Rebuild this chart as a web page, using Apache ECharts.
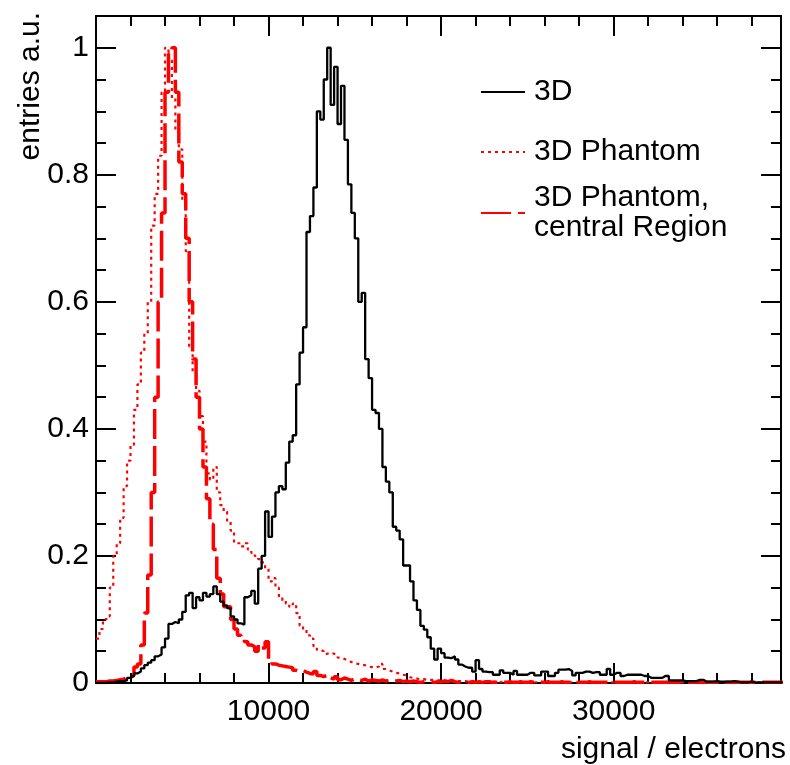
<!DOCTYPE html>
<html>
<head>
<meta charset="utf-8">
<script src="https://cdn.jsdelivr.net/npm/echarts@6/dist/echarts.min.js"></script>
<style>
html,body{margin:0;padding:0;background:#fff;}
#chart{width:790px;height:765px;}
</style>
</head>
<body>
<div id="chart"></div>
<script>
// ---- data (histograms, bin width 200 electrons, first bin starts at 0) ----
var binWidth = 200;
var seriesNames = ['3D', '3D Phantom', '3D Phantom,\ncentral Region'];
var xTickLabels = ['10000', '20000', '30000'];
var yTickLabels = ['0', '0.2', '0.4', '0.6', '0.8', '1'];
var xTitle = 'signal / electrons';
var yTitle = 'entries a.u.';

var sig3D = [
  0, 0, 0, 0.001, 0.001, 0.002, 0.003, 0.003, 0.004, 0.008,
  0.011, 0.015, 0.018, 0.023, 0.028, 0.032, 0.036, 0.042, 0.045, 0.056,
  0.07, 0.093, 0.096, 0.094, 0.1, 0.112, 0.138, 0.142, 0.118, 0.135,
  0.13, 0.142, 0.136, 0.14, 0.152, 0.14, 0.128, 0.122, 0.118, 0.105,
  0.1, 0.094, 0.092, 0.135, 0.138, 0.145, 0.125, 0.18, 0.2, 0.27,
  0.23, 0.262, 0.3, 0.31, 0.305, 0.347, 0.38, 0.39, 0.47, 0.52,
  0.56, 0.71, 0.735, 0.78, 0.9, 0.887, 0.95, 1.0, 0.91, 0.97,
  0.88, 0.94, 0.855, 0.785, 0.74, 0.7, 0.6, 0.614, 0.51, 0.48,
  0.43, 0.425, 0.4, 0.34, 0.317, 0.3, 0.246, 0.24, 0.226, 0.185,
  0.185, 0.16, 0.13, 0.115, 0.09, 0.084, 0.072, 0.054, 0.037, 0.054,
  0.047, 0.04, 0.039, 0.042, 0.037, 0.029, 0.026, 0.024, 0.024, 0.018,
  0.036, 0.022, 0.018, 0.017, 0.017, 0.013, 0.013, 0.02, 0.016, 0.016,
  0.013, 0.019, 0.013, 0.013, 0.013, 0.016, 0.016, 0.012, 0.012, 0.018,
  0.018, 0.011, 0.011, 0.016, 0.021, 0.021, 0.022, 0.019, 0.012, 0.016,
  0.016, 0.018, 0.018, 0.016, 0.017, 0.017, 0.013, 0.013, 0.022, 0.013,
  0.016, 0.016, 0.011, 0.013, 0.013, 0.013, 0.013, 0.013, 0.011, 0.011,
  0.008, 0.008, 0.008, 0.008, 0.011, 0.011, 0.004, 0.004, 0.004, 0.004,
  0.003, 0.003, 0.003, 0.003, 0.005, 0.005, 0.002, 0.002, 0.002, 0.003,
  0.002, 0.002, 0.002, 0.002, 0.003, 0.002, 0.001, 0.001, 0.001, 0.002,
  0.001, 0.001, 0.001, 0.001, 0.001, 0.001, 0.001, 0.001, 0.001
];

var phantom3D = [
  0.07, 0.085, 0.1, 0.105, 0.15, 0.2, 0.22, 0.26, 0.31, 0.35,
  0.375, 0.43, 0.47, 0.52, 0.55, 0.6, 0.72, 0.77, 0.83, 0.93,
  1.0, 0.98, 0.92, 0.87, 0.84, 0.76, 0.68, 0.53, 0.49, 0.46,
  0.42, 0.38, 0.33, 0.32, 0.34, 0.3, 0.28, 0.27, 0.255, 0.24,
  0.22, 0.22, 0.215, 0.22, 0.21, 0.205, 0.2, 0.195, 0.19, 0.18,
  0.16, 0.165, 0.15, 0.135, 0.13, 0.125, 0.12, 0.125, 0.11, 0.09,
  0.085, 0.075, 0.07, 0.058, 0.052, 0.05, 0.046, 0.048, 0.046, 0.044,
  0.04, 0.038, 0.035, 0.033, 0.031, 0.03, 0.028, 0.028, 0.026, 0.025,
  0.024, 0.026, 0.03, 0.022, 0.02, 0.018, 0.016, 0.015, 0.013, 0.012,
  0.009, 0.008, 0.007, 0.006, 0.006, 0.005, 0.005, 0.005, 0.004, 0.004,
  0.004, 0.003, 0.003, 0.004, 0.003, 0.003, 0.003, 0.002, 0.003, 0.002,
  0.002, 0.002, 0.003, 0.002, 0.002, 0.002, 0.001, 0.002, 0.002, 0.001,
  0.002, 0.001, 0.001, 0.002, 0.001, 0.001, 0.001, 0.001, 0.002, 0.001,
  0.001, 0.001, 0.001, 0.001, 0.001, 0.001, 0.001, 0.001, 0.001, 0.001,
  0.001, 0.001, 0.001, 0.001, 0.001, 0.001, 0.001, 0.001, 0.001, 0.001,
  0.001, 0.001, 0.001, 0.001, 0.001, 0.001, 0.001, 0.001, 0.001, 0.001,
  0.001, 0.001, 0.001, 0.001, 0.001, 0.001, 0.001, 0.001, 0.001, 0.001,
  0.001, 0.001, 0.001, 0.001, 0.001, 0.001, 0.001, 0.001, 0.001, 0.001,
  0.001, 0.001, 0.001, 0.001, 0.001, 0.001, 0.001, 0.001, 0.001, 0.001,
  0.001, 0.001, 0.001, 0.001, 0.001, 0.001, 0.001, 0.001, 0.001
];

var phantomCentral = [
  0.002, 0.002, 0.002, 0.003, 0.003, 0.004, 0.005, 0.006, 0.008, 0.01,
  0.012, 0.025, 0.03, 0.06, 0.11, 0.17, 0.3, 0.45, 0.6, 0.74,
  0.93, 0.99, 1.0, 0.93, 0.82, 0.77, 0.7, 0.6, 0.51, 0.45,
  0.4, 0.34, 0.29, 0.25, 0.21, 0.165, 0.14, 0.12, 0.12, 0.1,
  0.085, 0.075, 0.07, 0.065, 0.06, 0.057, 0.05, 0.06, 0.055, 0.065,
  0.035, 0.03, 0.028, 0.027, 0.026, 0.025, 0.024, 0.02, 0.018, 0.02,
  0.017, 0.015, 0.014, 0.018, 0.012, 0.01, 0.012, 0.008, 0.006, 0.01,
  0.005, 0.008, 0.006, 0.004, 0.007, 0.005, 0.004, 0.006, 0.003, 0.005,
  0.004, 0.003, 0.005, 0.003, 0.004, 0.002, 0.003, 0.004, 0.002, 0.003,
  0.002, 0.003, 0.002, 0.001, 0.002, 0.003, 0.002, 0.001, 0.002, 0.002,
  0.003, 0.002, 0.004, 0.002, 0.001, 0.002, 0.002, 0.001, 0.002, 0.001,
  0.002, 0.001, 0.002, 0.002, 0.001, 0.001, 0.002, 0.001, 0.001, 0.002,
  0.001, 0.001, 0.002, 0.001, 0.001, 0.002, 0.001, 0.001, 0.001, 0.001,
  0.002, 0.001, 0.001, 0.001, 0.002, 0.001, 0.001, 0.001, 0.001, 0.001,
  0.001, 0.001, 0.002, 0.001, 0.001, 0.001, 0.001, 0.001, 0.001, 0.001,
  0.001, 0.001, 0.001, 0.001, 0.001, 0.002, 0.001, 0.001, 0.001, 0.001,
  0.001, 0.001, 0.001, 0.001, 0.001, 0.001, 0.001, 0.001, 0.001, 0.001,
  0.001, 0.001, 0.001, 0.001, 0.001, 0.001, 0.001, 0.001, 0.001, 0.001,
  0.001, 0.001, 0.001, 0.001, 0.001, 0.001, 0.001, 0.001, 0.001, 0.001,
  0.001, 0.001, 0.001, 0.001, 0.001, 0.001, 0.001, 0.001, 0.001
];

var xMin = 0, xMax = 39700, yMin = 0, yMax = 1.05;

// ---- build ----
function toSteps(vals) {
  var out = vals.map(function (v, i) { return [i * binWidth, v]; });
  out.push([vals.length * binWidth, vals[vals.length - 1]]);
  return out;
}
var FONT = 'Liberation Sans';
var chart = echarts.init(document.getElementById('chart'), null, {renderer: 'canvas'});

function xAx(pos, interval, len, labels, line) {
  return {
    type: 'value', position: pos, min: xMin, max: xMax, interval: interval,
    axisLine: {show: line, onZero: false, lineStyle: {color: '#000', width: 2}},
    axisTick: {show: true, inside: true, length: len, lineStyle: {color: '#000', width: 2}},
    axisLabel: {
      show: labels, fontSize: 30, fontFamily: FONT, color: '#000', margin: 14,
      showMinLabel: false, showMaxLabel: false,
      formatter: function (v) { var s = String(Math.round(v)); return xTickLabels.indexOf(s) >= 0 ? s : ''; }
    },
    splitLine: {show: false}
  };
}
function yAx(pos, interval, len, labels, line) {
  return {
    type: 'value', position: pos, min: yMin, max: yMax, interval: interval,
    axisLine: {show: line, onZero: false, lineStyle: {color: '#000', width: 2}},
    axisTick: {show: true, inside: true, length: len, lineStyle: {color: '#000', width: 2}},
    axisLabel: {
      show: labels, fontSize: 30, fontFamily: FONT, color: '#000', margin: 7,
      showMaxLabel: false,
      formatter: function (v) { var s = String(Math.round(v * 10) / 10); return (Math.abs(v - Math.round(v * 10) / 10) < 1e-6 && yTickLabels.indexOf(s) >= 0) ? s : ''; }
    },
    splitLine: {show: false}
  };
}

var legendBase = function (name, top) {
  return {
    data: [name], orient: 'vertical', left: 480, top: top, padding: 0,
    itemWidth: 44, itemHeight: 14, itemGap: 0,
    itemStyle: {opacity: 0, borderWidth: 0},
    textStyle: {fontSize: 30, fontFamily: FONT, color: '#000', lineHeight: 30, padding: [0, 0, 0, 4]},
    selectedMode: false
  };
};

var option = {
  animation: false,
  backgroundColor: '#fff',
  grid: {left: 96, right: 9, top: 16, bottom: 82, containLabel: false},
  xAxis: [
    xAx('bottom', 10000, 20, true, true),
    xAx('bottom', 2000, 10, false, false),
    xAx('top', 10000, 20, false, true),
    xAx('top', 2000, 10, false, false)
  ],
  yAxis: [
    yAx('left', 0.2, 20, true, true),
    yAx('left', 0.05, 10, false, false),
    yAx('right', 0.2, 20, false, true),
    yAx('right', 0.05, 10, false, false)
  ],
  legend: [
    legendBase(seriesNames[0], 77),
    legendBase(seriesNames[1], 137),
    legendBase(seriesNames[2], 183)
  ],
  graphic: [
    {type: 'text', x: 786, y: 750, style: {text: xTitle, fontSize: 30, fontFamily: FONT, fill: '#000', align: 'right', verticalAlign: 'middle'}},
    {type: 'text', x: 31, y: 12, rotation: Math.PI / 2, style: {text: yTitle, fontSize: 30, fontFamily: FONT, fill: '#000', align: 'right', verticalAlign: 'middle'}}
  ],
  series: [
    {name: seriesNames[0], type: 'line', step: 'end', symbol: 'none', data: toSteps(sig3D),
     lineStyle: {color: '#000', width: 2.3}, itemStyle: {color: '#000'}, z: 3},
    {name: seriesNames[1], type: 'line', step: 'end', symbol: 'none', data: toSteps(phantom3D),
     lineStyle: {color: '#ff0000', width: 2.2, type: [3, 4]}, itemStyle: {color: '#ff0000'}, z: 2},
    {name: seriesNames[2], type: 'line', step: 'end', symbol: 'none', data: toSteps(phantomCentral),
     lineStyle: {color: '#ff0000', width: 3.5, type: [30, 7]}, itemStyle: {color: '#ff0000'}, z: 2}
  ]
};
chart.setOption(option);
</script>
</body>
</html>
